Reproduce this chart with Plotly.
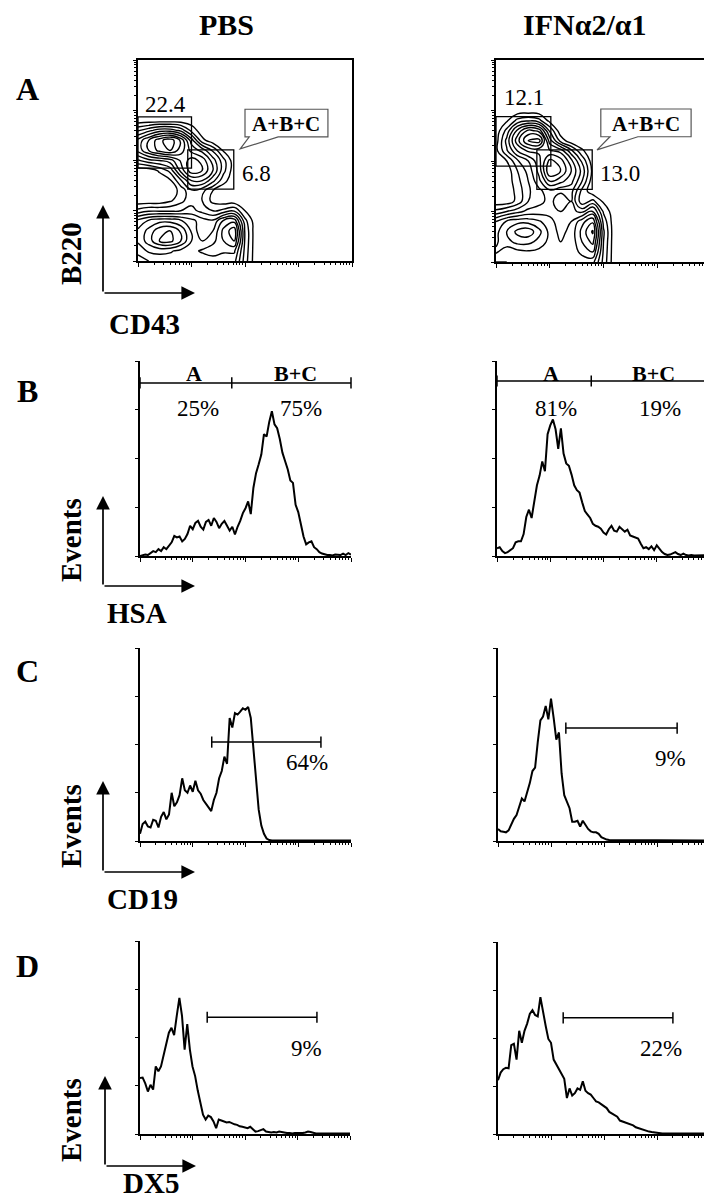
import numpy as np
import plotly.graph_objects as go

W, H = 712, 1200
FONT = "Liberation Serif"

# ---------------- data ----------------
col_titles = ["PBS", "IFNα2/α1"]
row_letters = ["A", "B", "C", "D"]
a_axis_labels = ["B220", "CD43"]
hist_markers = ["HSA", "CD19", "DX5"]
events_label = "Events"

# Panel A: density (log-level units) on a grid, decades of fluorescence
contour_x = [0.0, 0.2, 0.4, 0.6, 0.8, 1.0, 1.2, 1.4, 1.6, 1.8, 2.0, 2.2, 2.4]
contour_y = [0.0, 0.2, 0.4, 0.6, 0.8, 1.0, 1.2, 1.4, 1.6, 1.8, 2.0, 2.2, 2.4, 2.6, 2.8, 3.0]
pbs_density = [
    [2.5, 2.8, 3.0, 3.0, 3.0, 3.0, 3.0, 3.0, 3.0, 3.0, 1.3, 0, 0],
    [3.0, 3.5, 3.6, 3.5, 3.2, 3.2, 3.5, 3.8, 3.5, 3.5, 1.4, 0, 0],
    [3.5, 4.3, 5.2, 5.4, 4.6, 3.4, 2.8, 3.2, 4.0, 4.6, 1.5, 0, 0],
    [3.5, 4.2, 5.0, 5.2, 4.5, 3.3, 2.3, 2.8, 4.2, 5.0, 1.5, 0, 0],
    [3.0, 3.5, 3.8, 3.8, 3.5, 3.0, 2.5, 2.3, 3.5, 3.8, 1.2, 0, 0],
    [1.2, 1.5, 1.5, 1.5, 1.6, 1.8, 1.4, 1.0, 1.2, 1.5, 0.4, 0, 0],
    [0, 0, 0, 0.3, 0.8, 1.4, 1.0, 0.2, 0, 0, 0, 0, 0],
    [0, 0, 0, 0, 0.6, 1.5, 1.2, 0.4, 0, 0, 0, 0, 0],
    [0, 0, 0, 0.3, 1.5, 2.8, 2.8, 1.8, 0.6, 0, 0, 0, 0],
    [0, 0, 0.5, 1.2, 3.0, 4.4, 4.0, 2.8, 1.2, 0, 0, 0, 0],
    [1.5, 2.0, 2.2, 2.5, 3.5, 4.3, 3.8, 2.5, 1.2, 0, 0, 0, 0],
    [3.0, 4.0, 4.8, 5.2, 4.3, 3.2, 2.6, 1.5, 0.3, 0, 0, 0, 0],
    [3.0, 4.0, 5.0, 5.6, 4.5, 2.5, 0.6, 0, 0, 0, 0, 0, 0],
    [1.5, 2.0, 2.5, 2.5, 2.0, 0.8, 0, 0, 0, 0, 0, 0, 0],
    [0, 0, 0, 0, 0, 0, 0, 0, 0, 0, 0, 0, 0],
    [0, 0, 0, 0, 0, 0, 0, 0, 0, 0, 0, 0, 0],
]
ifn_density = [
    [2.8, 2.8, 3.0, 3.0, 3.0, 3.0, 3.0, 3.0, 3.0, 3.0, 1.4, 0, 0],
    [3.5, 3.0, 3.2, 3.3, 3.2, 3.2, 3.0, 3.0, 3.6, 4.0, 1.5, 0, 0],
    [3.3, 3.8, 4.2, 4.2, 3.8, 3.2, 2.8, 3.0, 4.0, 4.8, 1.6, 0, 0],
    [3.2, 4.0, 4.8, 5.0, 4.2, 3.2, 2.6, 3.0, 4.2, 5.3, 1.7, 0, 0],
    [2.8, 3.5, 3.8, 3.8, 3.5, 3.0, 2.5, 2.8, 3.8, 4.5, 1.4, 0, 0],
    [1.2, 1.6, 2.0, 2.4, 2.5, 2.6, 2.2, 2.4, 2.0, 3.0, 0.9, 0, 0],
    [0, 0, 0.6, 1.6, 2.0, 2.4, 1.8, 2.2, 0.6, 1.2, 0.3, 0, 0],
    [0, 0, 0.6, 1.5, 2.0, 2.6, 2.3, 2.4, 0.8, 0, 0, 0, 0],
    [0, 0, 0.8, 1.6, 2.6, 4.0, 3.6, 3.0, 1.6, 0, 0, 0, 0],
    [0, 0, 1.0, 1.8, 3.0, 5.2, 4.6, 3.4, 2.0, 0.2, 0, 0, 0],
    [0, 0.4, 1.5, 2.2, 3.2, 4.8, 4.3, 3.0, 1.5, 0, 0, 0, 0],
    [0.2, 1.5, 2.8, 3.5, 3.5, 3.5, 3.2, 1.8, 0.5, 0, 0, 0, 0],
    [0.1, 1.8, 3.8, 5.2, 5.5, 2.5, 0.8, 0, 0, 0, 0, 0, 0],
    [0, 1.2, 3.0, 4.2, 3.8, 1.5, 0, 0, 0, 0, 0, 0, 0],
    [0, 0.3, 1.2, 1.5, 1.2, 0.2, 0, 0, 0, 0, 0, 0, 0],
    [0, 0, 0, 0, 0, 0, 0, 0, 0, 0, 0, 0, 0],
]
# gates in panel A: [x0, x1, y0, y1] (decades) and their percentages
pbs_gates = [[0.0, 1.0, 1.85, 2.87], [0.93, 1.79, 1.43, 2.21]]
ifn_gates = [[0.0, 1.02, 1.90, 2.88], [0.76, 1.79, 1.44, 2.22]]
pbs_gate_pct = ["22.4", "6.8"]
ifn_gate_pct = ["12.1", "13.0"]
callout_text = "A+B+C"

# Histogram channels (decades) and event counts
hist_x = [round(0.05 * i, 2) for i in range(81)]
hsa_pbs = [0.00, 0.02, 0.03, 0.02, 0.06, 0.10, 0.08, 0.14, 0.10, 0.18,
           0.14, 0.20, 0.28, 0.41, 0.38, 0.40, 0.30, 0.35, 0.45, 0.62,
           0.55, 0.68, 0.72, 0.60, 0.54, 0.70, 0.74, 0.62, 0.78, 0.70,
           0.57, 0.66, 0.72, 0.62, 0.52, 0.60, 0.44, 0.60, 0.72, 0.88,
           0.98, 1.12, 0.86, 1.40, 1.70, 1.88, 2.08, 2.50, 2.45, 2.75,
           2.97, 2.70, 2.62, 2.40, 2.12, 1.95, 1.78, 1.55, 1.50, 1.05,
           0.90, 0.65, 0.40, 0.24, 0.28, 0.30, 0.18, 0.14, 0.08, 0.05,
           0.03, 0.02, 0.02, 0.01, 0.03, 0.02, 0.02, 0.05, 0.02, 0.06, 0.03]
hsa_ifn = [0.16, 0.18, 0.10, 0.06, 0.08, 0.13, 0.16, 0.28, 0.30, 0.30,
           0.45, 0.80, 0.95, 0.78, 1.10, 1.45, 1.65, 1.94, 1.74, 2.50,
           2.68, 2.80, 2.60, 2.20, 2.62, 2.10, 1.90, 1.85, 1.67, 1.45,
           1.35, 1.30, 1.10, 0.92, 0.85, 0.78, 0.66, 0.62, 0.60, 0.56,
           0.48, 0.44, 0.55, 0.62, 0.52, 0.50, 0.60, 0.55, 0.50, 0.54,
           0.42, 0.40, 0.38, 0.36, 0.25, 0.16, 0.18, 0.14, 0.20, 0.12,
           0.22, 0.14, 0.08, 0.04, 0.02, 0.03, 0.06, 0.08, 0.04, 0.02,
           0.05, 0.02, 0.01, 0.02, 0.01, 0.01, 0.02, 0.01, 0.01, 0.01, 0.02]
cd19_pbs = [0.15, 0.35, 0.40, 0.30, 0.28, 0.44, 0.42, 0.28, 0.50, 0.60,
            0.45, 0.55, 1.00, 0.72, 0.80, 0.95, 1.30, 1.05, 1.00, 1.15,
            1.02, 1.25, 1.05, 0.98, 0.85, 0.78, 0.70, 0.62, 0.85, 1.00,
            1.30, 1.45, 1.75, 1.60, 2.55, 2.35, 2.65, 2.62, 2.68, 2.75,
            2.72, 2.78, 2.55, 1.90, 1.20, 0.65, 0.32, 0.15, 0.05, 0.02,
            0.01, 0.01, 0.01, 0.01, 0.01, 0.01, 0.01, 0.01, 0.01, 0.01,
            0.01, 0.01, 0.01, 0.01, 0.01, 0.01, 0.01, 0.01, 0.01, 0.01,
            0.01, 0.01, 0.01, 0.01, 0.01, 0.01, 0.01, 0.01, 0.01, 0.01, 0.01]
cd19_ifn = [0.25, 0.20, 0.19, 0.18, 0.22, 0.36, 0.46, 0.54, 0.72, 0.88,
            0.82, 1.00, 1.20, 1.45, 1.52, 2.05, 2.50, 2.58, 2.80, 2.52,
            2.95, 2.55, 2.10, 2.25, 1.40, 0.95, 0.82, 0.68, 0.40, 0.40,
            0.42, 0.30, 0.42, 0.32, 0.25, 0.20, 0.18, 0.18, 0.15, 0.08,
            0.05, 0.03, 0.02, 0.02, 0.01, 0.01, 0.01, 0.01, 0.01, 0.01,
            0.01, 0.01, 0.01, 0.01, 0.01, 0.01, 0.01, 0.01, 0.01, 0.01,
            0.01, 0.01, 0.01, 0.01, 0.01, 0.01, 0.01, 0.01, 0.01, 0.01,
            0.01, 0.01, 0.01, 0.01, 0.01, 0.01, 0.01, 0.01, 0.01, 0.01, 0.01]
dx5_pbs = [1.16, 1.17, 1.05, 0.88, 1.02, 0.92, 1.40, 1.30, 1.40, 1.62,
           1.90, 2.10, 2.20, 2.05, 2.45, 2.82, 2.45, 1.75, 2.28, 1.75,
           1.40, 1.20, 0.90, 0.62, 0.40, 0.30, 0.38, 0.35, 0.26, 0.12,
           0.30, 0.28, 0.26, 0.24, 0.25, 0.22, 0.20, 0.19, 0.16, 0.15,
           0.13, 0.12, 0.15, 0.10, 0.05, 0.06, 0.08, 0.10, 0.05, 0.04,
           0.03, 0.04, 0.03, 0.05, 0.04, 0.02, 0.02, 0.02, 0.01, 0.02,
           0.02, 0.01, 0.02, 0.03, 0.05, 0.04, 0.02, 0.01, 0.01, 0.01,
           0.01, 0.01, 0.01, 0.01, 0.01, 0.01, 0.01, 0.01, 0.01, 0.01, 0.01]
dx5_ifn = [1.12, 1.28, 1.35, 1.38, 1.37, 1.85, 1.88, 1.55, 2.15, 1.90,
           2.15, 2.30, 2.50, 2.58, 2.48, 2.45, 2.85, 2.52, 2.25, 1.98,
           1.90, 1.55, 1.45, 1.35, 1.23, 1.15, 0.75, 0.95, 0.80, 0.85,
           0.95, 0.92, 1.10, 0.90, 0.85, 0.82, 0.75, 0.68, 0.66, 0.62,
           0.58, 0.54, 0.46, 0.43, 0.40, 0.36, 0.28, 0.26, 0.24, 0.22,
           0.20, 0.18, 0.14, 0.12, 0.10, 0.08, 0.06, 0.05, 0.04, 0.03,
           0.02, 0.02, 0.01, 0.01, 0.01, 0.01, 0.01, 0.01, 0.01, 0.01,
           0.01, 0.01, 0.01, 0.01, 0.01, 0.01, 0.01, 0.01, 0.01, 0.01, 0.01]

# HSA gates: A | B+C boundary, bar level, labels
hsa_divider = [1.74, 1.77]
hsa_bar_y = [3.55, 3.59]
hsa_gate_names = ["A", "B+C"]
hsa_pct = [["25%", "75%"], ["81%", "19%"]]
# marker gates [x0, x1, y] and percentages
cd19_gates = [[1.36, 3.43, 2.05], [1.28, 3.38, 2.34]]
cd19_pct = ["64%", "9%"]
dx5_gates = [[1.28, 3.37, 2.42], [1.23, 3.30, 2.42]]
dx5_pct = ["9%", "22%"]

# ---------------- layout helpers ----------------
# axis boxes in pixels: (left, right, top, bottom)
boxes = {
    1: (130, 344, 52, 253), 2: (488, 703, 52, 254),
    3: (132, 343, 353, 548), 4: (489, 702, 353, 548),
    5: (132, 343, 640, 833), 6: (490, 702, 640, 833),
    7: (132, 342, 933, 1126), 8: (490, 702, 934, 1126),
}


def px(x):
    return x / W


def py(y):
    return 1 - y / H


minor_ticks = [d + np.log10(k) for d in range(4) for k in range(2, 10)]

fig = go.Figure()
layout = dict(width=W, height=H, margin=dict(l=0, r=0, t=0, b=0),
              paper_bgcolor="white", plot_bgcolor="white", showlegend=False,
              font=dict(family=FONT, color="black"))

for n, (l, r, t, b) in boxes.items():
    sx = "" if n == 1 else str(n)
    is_dot = n <= 2
    layout["xaxis" + sx] = dict(
        domain=[px(l), px(r)], range=[0, 4], anchor="y" + sx,
        showline=True, linecolor="black", linewidth=1.5, mirror=is_dot,
        ticks="outside", ticklen=4, tickwidth=1, tickcolor="black",
        tickvals=[0, 1, 2, 3, 4], showticklabels=False, showgrid=False,
        zeroline=False, fixedrange=True,
        minor=dict(tickvals=minor_ticks, ticklen=2, ticks="outside",
                   tickcolor="black", tickwidth=1, showgrid=False))
    ydict = dict(
        domain=[py(b), py(t)], range=[0, 4], anchor="x" + sx,
        showline=True, linecolor="black", linewidth=1.5, mirror=is_dot,
        ticks="outside", ticklen=3, tickwidth=1, tickcolor="black",
        tickvals=[0, 1, 2, 3, 4], showticklabels=False, showgrid=False,
        zeroline=False, fixedrange=True)
    if is_dot:
        ydict["minor"] = dict(tickvals=minor_ticks, ticklen=2, ticks="outside",
                              tickcolor="black", tickwidth=1, showgrid=False)
    layout["yaxis" + sx] = ydict

annotations = []
shapes = []


def ref(n):
    return ("x", "y") if n == 1 else ("x%d" % n, "y%d" % n)


def add_text(n, x, y, text, size=22, bold=False):
    xr, yr = ref(n)
    annotations.append(dict(x=x, y=y, xref=xr, yref=yr, text=("<b>%s</b>" % text) if bold else text,
                            showarrow=False, font=dict(family=FONT, size=size, color="black"),
                            xanchor="center", yanchor="middle"))


# ---- panel A contour plots ----
callouts = {1: dict(box=[2.0, 3.55, 2.47, 3.02], base=[2.08, 2.62], tip=[1.91, 2.23]),
            2: dict(box=[1.95, 3.63, 2.48, 3.03], base=[2.12, 2.64], tip=[1.88, 2.22])}
pct_pos = {1: [[0.52, 3.12], [2.22, 1.75]], 2: [[0.52, 3.25], [2.31, 1.76]]}
for n, dens, gates, pcts in [(1, pbs_density, pbs_gates, pbs_gate_pct),
                              (2, ifn_density, ifn_gates, ifn_gate_pct)]:
    xr, yr = ref(n)
    fig.add_trace(go.Contour(
        x=contour_x, y=contour_y, z=dens, xaxis=xr, yaxis=yr,
        autocontour=False, contours=dict(start=0.4, end=5.8, size=0.6, coloring="lines"),
        colorscale=[[0, "black"], [1, "black"]], showscale=False,
        line=dict(width=1.4, smoothing=1.3), hoverinfo="skip"))
    for g in gates:
        shapes.append(dict(type="rect", xref=xr, yref=yr, x0=g[0], x1=g[1], y0=g[2], y1=g[3],
                           line=dict(color="black", width=1.3)))
    for p, pos in zip(pcts, pct_pos[n]):
        add_text(n, pos[0], pos[1], p, size=23)
    c = callouts[n]
    bx0, bx1, by0, by1 = c["box"]
    path = ("M %f,%f L %f,%f L %f,%f L %f,%f L %f,%f L %f,%f L %f,%f Z" %
            (bx0, by1, bx1, by1, bx1, by0, c["base"][1], by0, c["tip"][0], c["tip"][1],
             c["base"][0], by0, bx0, by0))
    shapes.append(dict(type="path", xref=xr, yref=yr, path=path, fillcolor="white",
                       line=dict(color="#555555", width=1.2)))
    add_text(n, (bx0 + bx1) / 2, (by0 + by1) / 2 - 0.02, callout_text, size=21, bold=True)

# ---- histograms ----
hist_sets = {3: hsa_pbs, 4: hsa_ifn, 5: cd19_pbs, 6: cd19_ifn, 7: dx5_pbs, 8: dx5_ifn}
for n, ys in hist_sets.items():
    xr, yr = ref(n)
    fig.add_trace(go.Scatter(x=hist_x, y=ys, xaxis=xr, yaxis=yr, mode="lines",
                             line=dict(color="black", width=2.0), hoverinfo="skip"))


def gate_bar(n, xs, y):
    xr, yr = ref(n)
    fig.add_trace(go.Scatter(x=xs, y=[y] * len(xs), xaxis=xr, yaxis=yr, mode="lines+markers",
                             line=dict(color="black", width=1.5),
                             marker=dict(symbol="line-ns", size=8, color="black",
                                         line=dict(color="black", width=1.5)),
                             hoverinfo="skip", cliponaxis=False))


# HSA gates
hsa_label_x = [[1.02, 2.94], [1.01, 2.93]]
hsa_pct_x = [[1.10, 3.05], [1.11, 3.06]]
for i, n in enumerate([3, 4]):
    gate_bar(n, [0, hsa_divider[i], 4], hsa_bar_y[i])
    for j in range(2):
        add_text(n, hsa_label_x[i][j], 3.75, hsa_gate_names[j], size=22, bold=True)
        add_text(n, hsa_pct_x[i][j], 3.03, hsa_pct[i][j], size=23)

# CD19 / DX5 gates
cd19_txt = [[3.16, 1.62], [3.25, 1.72]]
dx5_txt = [[3.18, 1.78], [3.08, 1.78]]
for i, n in enumerate([5, 6]):
    g = cd19_gates[i]
    gate_bar(n, [g[0], g[1]], g[2])
    add_text(n, cd19_txt[i][0], cd19_txt[i][1], cd19_pct[i], size=23)
for i, n in enumerate([7, 8]):
    g = dx5_gates[i]
    gate_bar(n, [g[0], g[1]], g[2])
    add_text(n, dx5_txt[i][0], dx5_txt[i][1], dx5_pct[i], size=23)

# ---- headers, letters, axis indicator arrows ----
for t, xc in zip(col_titles, [218, 577]):
    annotations.append(dict(x=px(xc), y=py(17), xref="paper", yref="paper", text="<b>%s</b>" % t,
                            showarrow=False, font=dict(family=FONT, size=30, color="black"),
                            xanchor="center", yanchor="middle"))
for t, yc in zip(row_letters, [81, 383, 663, 958]):
    annotations.append(dict(x=px(19), y=py(yc), xref="paper", yref="paper", text="<b>%s</b>" % t,
                            showarrow=False, font=dict(family=FONT, size=32, color="black"),
                            xanchor="center", yanchor="middle"))

# arrow corners (pixel) per row: (corner_x, corner_y, tip_y, tip_x)
arrow_rows = [(95, 285, 197, 187), (95, 578, 488, 187), (95, 864, 773, 187), (97, 1158, 1068, 188)]
vert_labels = [a_axis_labels[0], events_label, events_label, events_label]
vert_label_y = [245, 532, 818, 1112]
horiz_labels = [a_axis_labels[1]] + hist_markers
horiz_label_pos = [(100, 316), (98, 605), (98, 891), (114, 1175)]
for (cx, cy, ty, tx), vl, vly, hl, (hx, hy) in zip(arrow_rows, vert_labels, vert_label_y,
                                                    horiz_labels, horiz_label_pos):
    annotations.append(dict(x=px(cx), y=py(ty), xref="paper", yref="paper", text="",
                            showarrow=True, ax=0, ay=cy - ty, axref="pixel", ayref="pixel",
                            arrowhead=2, arrowsize=1.6, arrowwidth=1.7, arrowcolor="black",
                            standoff=0, startstandoff=0))
    annotations.append(dict(x=px(tx), y=py(cy), xref="paper", yref="paper", text="",
                            showarrow=True, ax=cx - tx, ay=0, axref="pixel", ayref="pixel",
                            arrowhead=2, arrowsize=1.6, arrowwidth=1.7, arrowcolor="black",
                            standoff=0, startstandoff=0))
    annotations.append(dict(x=px(63), y=py(vly), xref="paper", yref="paper", text="<b>%s</b>" % vl,
                            textangle=-90, showarrow=False,
                            font=dict(family=FONT, size=29, color="black"),
                            xanchor="center", yanchor="middle"))
    annotations.append(dict(x=px(hx), y=py(hy), xref="paper", yref="paper", text="<b>%s</b>" % hl,
                            showarrow=False, font=dict(family=FONT, size=29, color="black"),
                            xanchor="left", yanchor="middle", borderpad=0))

layout["annotations"] = annotations
layout["shapes"] = shapes
fig.update_layout(**layout)
fig.write_html("out.html")
